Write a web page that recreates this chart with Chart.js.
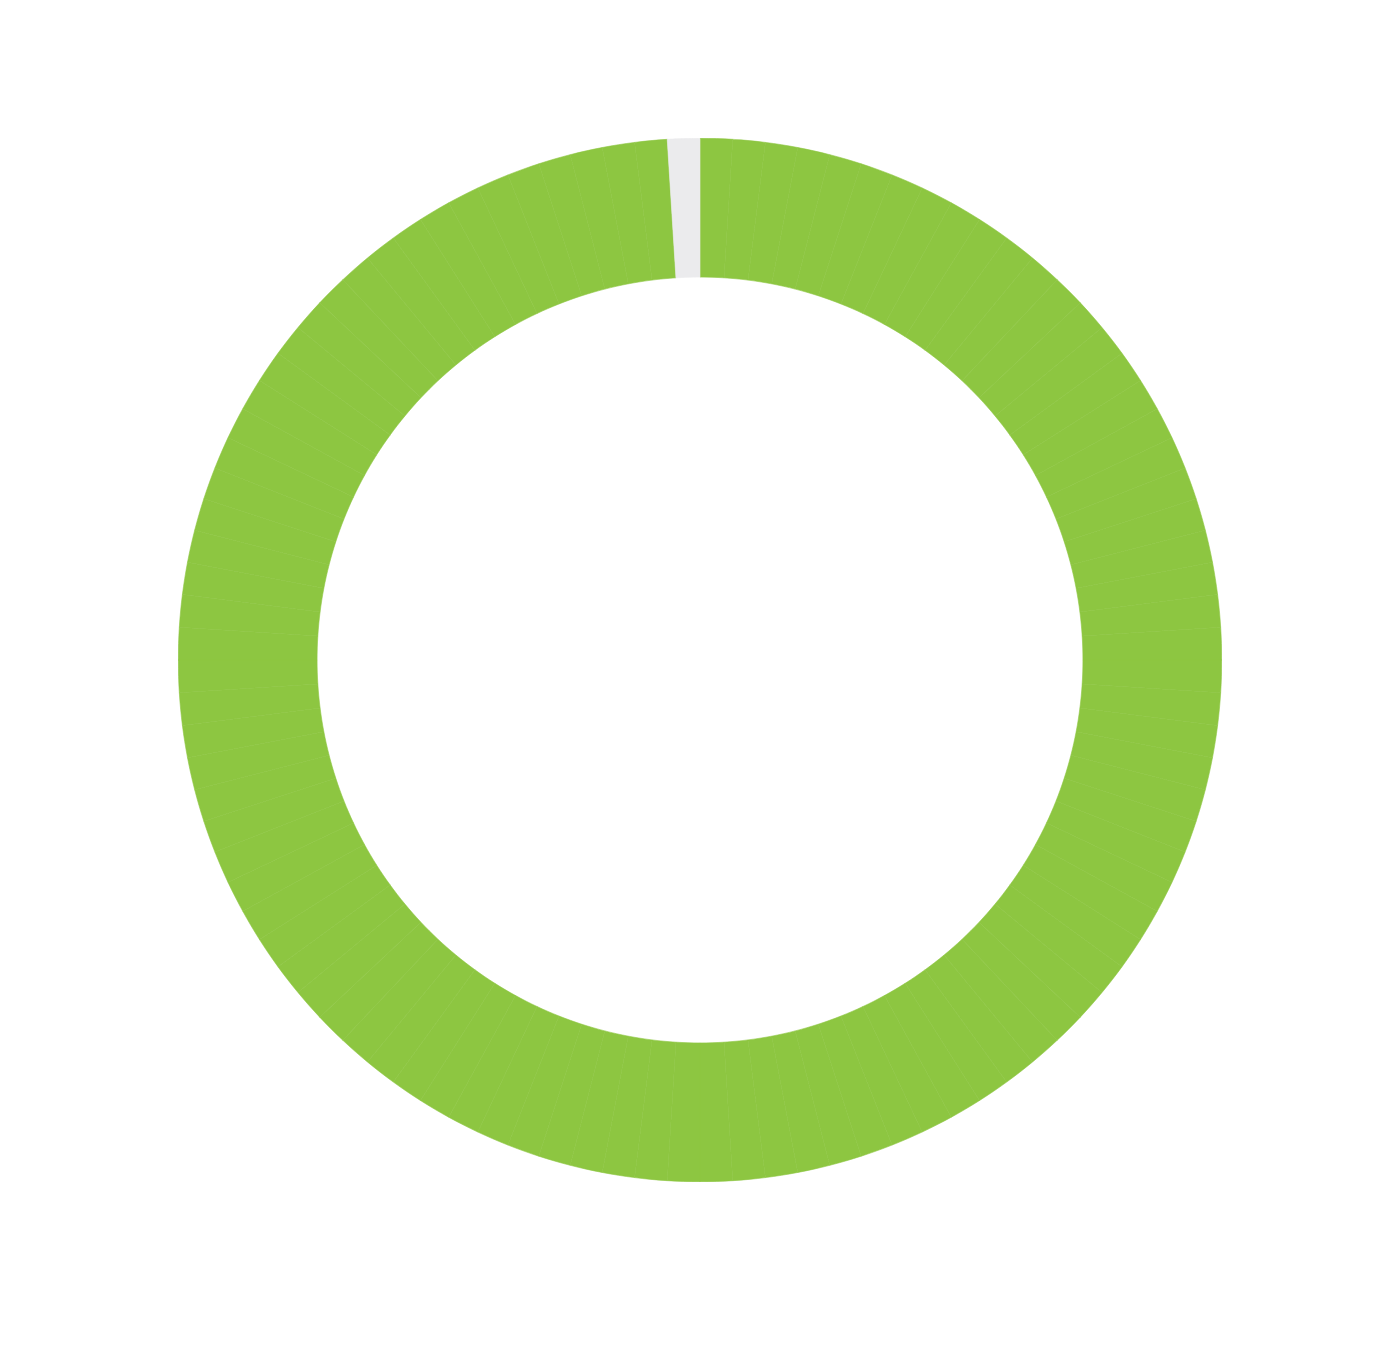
<!DOCTYPE html>
<html lang="en">
  <head>
    <meta charset="utf-8" />
    <title>Doughnut</title>
    <script src="https://cdn.jsdelivr.net/npm/chart.js"></script>
    <style>
      html, body { margin: 0; padding: 0; background: #fff; }
      .wrap { position: absolute; left: 178px; top: 138px; width: 1044px; height: 1044px; }
    </style>
  </head>
  <body>
    <div class="wrap">
      <canvas id="ring"></canvas>
    </div>
    <script>
      // 100 ticks of 1% each: 99 filled, the last one empty
      const segments = [
        1, 1, 1, 1, 1, 1, 1, 1, 1, 1,
        1, 1, 1, 1, 1, 1, 1, 1, 1, 1,
        1, 1, 1, 1, 1, 1, 1, 1, 1, 1,
        1, 1, 1, 1, 1, 1, 1, 1, 1, 1,
        1, 1, 1, 1, 1, 1, 1, 1, 1, 1,
        1, 1, 1, 1, 1, 1, 1, 1, 1, 1,
        1, 1, 1, 1, 1, 1, 1, 1, 1, 1,
        1, 1, 1, 1, 1, 1, 1, 1, 1, 1,
        1, 1, 1, 1, 1, 1, 1, 1, 1, 1,
        1, 1, 1, 1, 1, 1, 1, 1, 1, 1
      ];
      const filledCount = 99;
      const fillColor = "#8dc641";
      const emptyColor = "#ebebed";

      const colors = segments.map((v, i) => (i < filledCount ? fillColor : emptyColor));

      new Chart(document.getElementById("ring"), {
        type: "doughnut",
        data: {
          datasets: [
            {
              data: segments,
              backgroundColor: colors,
              // thin border in the same colour to hide most of the seams
              borderColor: colors,
              borderWidth: 0.6,
              hoverOffset: 0,
            },
          ],
        },
        options: {
          responsive: true,
          maintainAspectRatio: false,
          animation: false,
          cutout: "73.4%",
          layout: { padding: 0 },
          plugins: {
            legend: { display: false },
            tooltip: { enabled: false },
          },
        },
      });
    </script>
  </body>
</html>
